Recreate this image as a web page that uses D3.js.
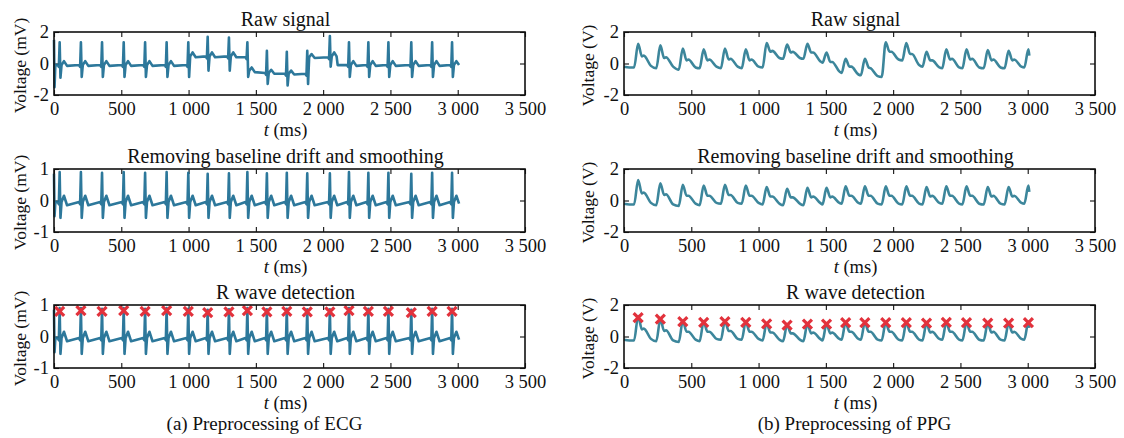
<!DOCTYPE html>
<html>
<head>
<meta charset="utf-8">
<script src="https://cdn.jsdelivr.net/npm/d3@7"></script>
<style>
  body { margin: 0; background: #fff; }
  svg { display: block; }
  text { font-family: "Liberation Serif", "Times New Roman", serif; fill: #111; }
</style>
</head>
<body>
<svg id="chart" width="1124" height="438"></svg>
<script>
// tick values and labels
const xTicks = [0, 500, 1000, 1500, 2000, 2500, 3000, 3500];
const ecgRawTicks = [-2, 0, 2];
const ecgCleanTicks = [-1, 0, 1];
const ppgTicks = [-2, 0, 2];
const panelTitles = ["Raw signal", "Removing baseline drift and smoothing", "R wave detection"];
const captions = ["(a) Preprocessing of ECG", "(b) Preprocessing of PPG"];

// ECG raw trace [t (ms), mV]
const ecgRaw = [
  [0,1.5],[4,-1.5],[10,-0.1],
  [28,-0.1],[36,-0.22],[42,1.35],[48,-0.9],[56,-0.1],[74,0.15],[97,-0.15],
  [186,-0.1],[194,-0.22],[200,1.35],[206,-0.85],[214,-0.1],[232,0.15],[255,-0.15],
  [343,-0.1],[351,-0.22],[357,1.35],[363,-0.85],[371,-0.1],[389,0.15],[412,-0.15],
  [504,-0.1],[512,-0.22],[518,1.35],[524,-0.85],[532,-0.1],[550,0.15],[573,-0.15],
  [663,-0.1],[671,-0.22],[677,1.35],[683,-0.85],[691,-0.1],[709,0.15],[732,-0.15],
  [823,-0.1],[831,-0.22],[837,1.35],[843,-0.85],[851,-0.1],[869,0.15],[892,-0.15],
  [984,-0.1],[992,-0.22],[998,1.35],[1004,-0.85],[1012,0.45],[1030,0.7],[1053,0.4],
  [1128,0.45],[1136,0.33],[1142,1.7],[1148,-0.45],[1156,0.45],[1174,0.7],[1197,0.4],
  [1286,0.45],[1294,0.33],[1300,1.65],[1306,-0.45],[1314,0.45],[1332,0.7],[1355,0.4],
  [1423,0.4],[1431,0.28],[1437,1.35],[1443,-0.85],[1451,-0.45],[1469,-0.25],[1492,-0.55],
  [1568,-0.6],[1576,-0.72],[1582,0.8],[1588,-1.3],[1596,-0.6],[1614,-0.4],[1637,-0.65],
  [1716,-0.65],[1724,-0.77],[1730,0.75],[1736,-1.4],[1744,-0.65],[1762,-0.45],[1785,-0.7],
  [1868,-0.65],[1876,-0.77],[1882,0.8],[1888,-1.3],[1896,0.4],[1914,0.6],[1937,0.35],
  [2036,0.4],[2044,0.28],[2050,1.75],[2056,-0.2],[2064,0.45],[2082,0.7],[2100,0.45],[2108,-0.1],
  [2178,-0.1],[2186,-0.22],[2192,1.35],[2198,-0.85],[2206,-0.1],[2224,0.15],[2247,-0.15],
  [2322,-0.1],[2330,-0.22],[2336,1.35],[2342,-0.85],[2350,-0.1],[2368,0.15],[2391,-0.15],
  [2471,-0.1],[2479,-0.22],[2485,1.35],[2491,-0.85],[2499,-0.1],[2517,0.15],[2540,-0.15],
  [2641,-0.1],[2649,-0.22],[2655,1.35],[2661,-0.85],[2669,-0.1],[2687,0.15],[2710,-0.15],
  [2796,-0.1],[2804,-0.22],[2810,1.35],[2816,-0.85],[2824,-0.1],[2842,0.15],[2865,-0.15],
  [2944,-0.1],[2952,-0.22],[2958,1.35],[2964,-0.85],[2972,-0.1],[2990,0.15],[3010,-0.1]
];

// ECG after baseline removal and smoothing
const ecgClean = [
  [0,0.85],[4,-0.5],[10,-0.05],
  [28,-0.05],[36,-0.12],[42,0.9],[48,-0.55],[56,-0.05],[74,0.15],[97,-0.15],
  [186,-0.05],[194,-0.12],[200,0.9],[206,-0.55],[214,-0.05],[232,0.15],[255,-0.15],
  [343,-0.05],[351,-0.12],[357,0.88],[363,-0.55],[371,-0.05],[389,0.15],[412,-0.15],
  [504,-0.05],[512,-0.12],[518,0.9],[524,-0.55],[532,-0.05],[550,0.15],[573,-0.15],
  [663,-0.05],[671,-0.12],[677,0.88],[683,-0.55],[691,-0.05],[709,0.15],[732,-0.15],
  [823,-0.05],[831,-0.12],[837,0.9],[843,-0.55],[851,-0.05],[869,0.15],[892,-0.15],
  [984,-0.05],[992,-0.12],[998,0.88],[1004,-0.55],[1012,-0.05],[1030,0.15],[1053,-0.15],
  [1128,-0.05],[1136,-0.12],[1142,0.85],[1148,-0.55],[1156,-0.05],[1174,0.15],[1197,-0.15],
  [1286,-0.05],[1294,-0.12],[1300,0.86],[1306,-0.55],[1314,-0.05],[1332,0.15],[1355,-0.15],
  [1423,-0.05],[1431,-0.12],[1437,0.9],[1443,-0.55],[1451,-0.05],[1469,0.15],[1492,-0.15],
  [1568,-0.05],[1576,-0.12],[1582,0.86],[1588,-0.55],[1596,-0.05],[1614,0.15],[1637,-0.15],
  [1716,-0.05],[1724,-0.12],[1730,0.88],[1736,-0.55],[1744,-0.05],[1762,0.15],[1785,-0.15],
  [1868,-0.05],[1876,-0.12],[1882,0.86],[1888,-0.55],[1896,-0.05],[1914,0.15],[1937,-0.15],
  [2036,-0.05],[2044,-0.12],[2050,0.86],[2056,-0.55],[2064,-0.05],[2082,0.15],[2105,-0.15],
  [2178,-0.05],[2186,-0.12],[2192,0.9],[2198,-0.55],[2206,-0.05],[2224,0.15],[2247,-0.15],
  [2322,-0.05],[2330,-0.12],[2336,0.88],[2342,-0.55],[2350,-0.05],[2368,0.15],[2391,-0.15],
  [2471,-0.05],[2479,-0.12],[2485,0.88],[2491,-0.55],[2499,-0.05],[2517,0.15],[2540,-0.15],
  [2641,-0.05],[2649,-0.12],[2655,0.85],[2661,-0.55],[2669,-0.05],[2687,0.15],[2710,-0.15],
  [2796,-0.05],[2804,-0.12],[2810,0.88],[2816,-0.55],[2824,-0.05],[2842,0.15],[2865,-0.15],
  [2944,-0.05],[2952,-0.12],[2958,0.88],[2964,-0.55],[2972,-0.05],[2990,0.15],[3010,-0.1]
];

// detected R peaks (red crosses)
const ecgPeaks = [
  [42,0.8],[200,0.82],[357,0.8],[518,0.82],[677,0.8],[837,0.82],[998,0.8],[1142,0.76],
  [1300,0.78],[1437,0.82],[1582,0.78],[1730,0.8],[1882,0.78],[2050,0.78],[2192,0.82],
  [2336,0.8],[2485,0.8],[2655,0.76],[2810,0.8],[2958,0.8]
];

// PPG raw trace [t (ms), V]
const ppgRaw = [
  [0,-0.2],[40,-0.25],[75,-0.25],
  [105,1.25],[133,0.45],[147,0.5],[200,-0.15],
  [240,-0.3],[270,1.15],[298,0.35],[312,0.4],[365,-0.2],
  [407,-0.4],[437,0.95],[465,0.2],[479,0.25],[532,-0.25],
  [562,-0.3],[592,0.9],[620,0.2],[634,0.25],[687,-0.2],
  [720,-0.3],[750,0.95],[778,0.25],[792,0.3],[845,-0.2],
  [875,-0.3],[905,0.9],[933,0.2],[947,0.25],[1000,-0.2],
  [1030,-0.25],[1060,1.3],[1088,0.75],[1102,0.8],[1155,0.35],
  [1182,0.3],[1212,1.2],[1240,0.7],[1254,0.75],[1307,0.35],
  [1333,0.3],[1363,1.25],[1391,0.7],[1405,0.7],[1458,0.15],
  [1475,0.05],[1505,0.7],[1533,0.1],[1547,0.1],[1600,-0.5],
  [1617,-0.6],[1647,0.3],[1675,-0.2],[1689,-0.2],[1742,-0.7],
  [1760,-0.75],[1790,0.3],[1818,-0.25],[1832,-0.3],[1885,-0.8],
  [1915,-0.85],[1945,1.35],[1973,0.75],[1987,0.75],[2040,0.25],
  [2068,0.2],[2098,1.3],[2126,0.6],[2140,0.6],[2193,-0.1],
  [2218,-0.2],[2248,0.75],[2276,0.2],[2290,0.2],[2343,-0.25],
  [2365,-0.3],[2395,0.9],[2423,0.25],[2437,0.3],[2490,-0.25],
  [2515,-0.3],[2545,0.9],[2573,0.25],[2587,0.3],[2640,-0.25],
  [2673,-0.3],[2703,0.85],[2731,0.2],[2745,0.25],[2798,-0.25],
  [2828,-0.3],[2858,0.8],[2886,0.2],[2900,0.25],[2953,-0.2],
  [2975,-0.25],[3005,0.9],[3012,0.5]
];

// PPG after baseline removal and smoothing
const ppgClean = [
  [0,-0.2],[40,-0.25],[75,-0.25],
  [105,1.3],[133,0.45],[147,0.5],[200,-0.15],
  [240,-0.3],[270,1.1],[298,0.35],[312,0.4],[365,-0.25],
  [407,-0.35],[437,1.0],[465,0.3],[479,0.3],[532,-0.2],
  [562,-0.3],[592,0.95],[620,0.3],[634,0.3],[687,-0.15],
  [720,-0.2],[750,1.0],[778,0.35],[792,0.35],[845,-0.15],
  [875,-0.2],[905,0.95],[933,0.3],[947,0.3],[1000,-0.15],
  [1030,-0.25],[1060,0.85],[1088,0.25],[1102,0.25],[1155,-0.2],
  [1182,-0.3],[1212,0.75],[1240,0.2],[1254,0.2],[1307,-0.2],
  [1333,-0.3],[1363,0.8],[1391,0.2],[1405,0.25],[1458,-0.15],
  [1475,-0.25],[1505,0.8],[1533,0.2],[1547,0.25],[1600,-0.15],
  [1617,-0.2],[1647,0.9],[1675,0.3],[1689,0.3],[1742,-0.15],
  [1760,-0.2],[1790,0.9],[1818,0.3],[1832,0.3],[1885,-0.2],
  [1915,-0.25],[1945,0.9],[1973,0.3],[1987,0.3],[2040,-0.2],
  [2068,-0.25],[2098,0.9],[2126,0.3],[2140,0.3],[2193,-0.2],
  [2218,-0.25],[2248,0.85],[2276,0.25],[2290,0.3],[2343,-0.15],
  [2365,-0.2],[2395,0.9],[2423,0.3],[2437,0.3],[2490,-0.2],
  [2515,-0.25],[2545,0.9],[2573,0.3],[2587,0.3],[2640,-0.2],
  [2673,-0.25],[2703,0.85],[2731,0.25],[2745,0.3],[2798,-0.2],
  [2828,-0.25],[2858,0.85],[2886,0.25],[2900,0.3],[2953,-0.15],
  [2975,-0.2],[3005,0.95],[3012,0.55]
];

// detected PPG peaks (red crosses)
const ppgPeaks = [
  [105,1.2],[270,1.1],[437,0.95],[592,0.9],[750,0.95],[905,0.9],[1060,0.8],[1212,0.72],
  [1363,0.78],[1505,0.78],[1647,0.88],[1790,0.88],[1945,0.88],[2098,0.88],[2248,0.85],
  [2395,0.9],[2545,0.88],[2703,0.85],[2858,0.85],[3005,0.88]
];

const svg = d3.select("#chart");
const plotW = 471, plotH = 63;
const tops = [32, 169, 305];
const cols = [
  {left: 54, ylabel: "Voltage (mV)", ylabelX: 20, color: "#1b6d93", curve: d3.curveLinear, capShift: -25},
  {left: 624, ylabel: "Voltage (V)", ylabelX: 588, color: "#2b7c92", curve: d3.curveMonotoneX, capShift: -5}
];
const fmt = d => String(d).replace(/\B(?=(\d{3})+(?!\d))/g, " ");

function drawPanel(ci, ri, series, yTicks, peaks) {
  const col = cols[ci];
  const g = svg.append("g").attr("transform", `translate(${col.left},${tops[ri]})`);

  const x = d3.scaleLinear().domain([0, 3500]).range([0, plotW]);
  const y = d3.scaleLinear().domain([yTicks[0], yTicks[yTicks.length - 1]]).range([plotH, 0]);

  // axes, MATLAB style: ticks pointing inward on all four sides
  g.append("g").attr("transform", `translate(0,${plotH})`)
    .call(d3.axisBottom(x).tickValues(xTicks).tickSize(-5).tickPadding(7).tickFormat(fmt));
  g.append("g")
    .call(d3.axisTop(x).tickValues(xTicks).tickSize(-5).tickFormat(""));
  g.append("g")
    .call(d3.axisLeft(y).tickValues(yTicks).tickSize(-5).tickPadding(5).tickFormat(d => String(d)));
  g.append("g").attr("transform", `translate(${plotW},0)`)
    .call(d3.axisRight(y).tickValues(yTicks).tickSize(-5).tickFormat(""));
  g.selectAll(".domain").remove();
  g.selectAll(".tick line").attr("stroke", "#111").attr("stroke-width", 1.1);
  g.selectAll(".tick text").attr("font-size", 18.5).attr("font-family", "Liberation Serif").attr("fill", "#111");

  const line = d3.line()
    .curve(col.curve)
    .x(d => x(d[0]))
    .y(d => y(d[1]));

  g.append("path")
    .datum(series)
    .attr("fill", "none")
    .attr("stroke", col.color)
    .attr("stroke-width", 2.6)
    .attr("stroke-linejoin", "round")
    .attr("opacity", 0.92)
    .attr("d", line);

  if (peaks) {
    g.selectAll(".peak")
      .data(peaks)
      .enter().append("path")
      .attr("class", "peak")
      .attr("transform", d => `translate(${x(d[0])},${y(d[1])})`)
      .attr("d", "M-4.5,-4.5L4.5,4.5M-4.5,4.5L4.5,-4.5")
      .attr("stroke", "#e2323c")
      .attr("stroke-width", 3.2)
      .attr("fill", "none");
  }

  // box
  g.append("rect")
    .attr("width", plotW).attr("height", plotH)
    .attr("fill", "none").attr("stroke", "#111").attr("stroke-width", 1.6);

  g.append("text")
    .attr("x", plotW / 2 - 4).attr("y", -6)
    .attr("text-anchor", "middle").attr("font-size", 20)
    .text(panelTitles[ri]);

  const xl = g.append("text")
    .attr("x", plotW / 2 - 4).attr("y", plotH + 41)
    .attr("text-anchor", "middle").attr("font-size", 18.5);
  xl.append("tspan").attr("font-style", "italic").text("t");
  xl.append("tspan").text(" (ms)");

  svg.append("text")
    .attr("transform", `translate(${col.ylabelX},${tops[ri] + plotH / 2 + 2}) rotate(-90)`)
    .attr("text-anchor", "middle").attr("dy", "0.35em").attr("font-size", 17.5)
    .text(col.ylabel);
}

drawPanel(0, 0, ecgRaw, ecgRawTicks);
drawPanel(0, 1, ecgClean, ecgCleanTicks);
drawPanel(0, 2, ecgClean, ecgCleanTicks, ecgPeaks);
drawPanel(1, 0, ppgRaw, ppgTicks);
drawPanel(1, 1, ppgClean, ppgTicks);
drawPanel(1, 2, ppgClean, ppgTicks, ppgPeaks);

cols.forEach((col, i) => {
  svg.append("text")
    .attr("x", col.left + plotW / 2 + col.capShift).attr("y", 430)
    .attr("text-anchor", "middle").attr("font-size", 19)
    .text(captions[i]);
});
</script>
</body>
</html>
